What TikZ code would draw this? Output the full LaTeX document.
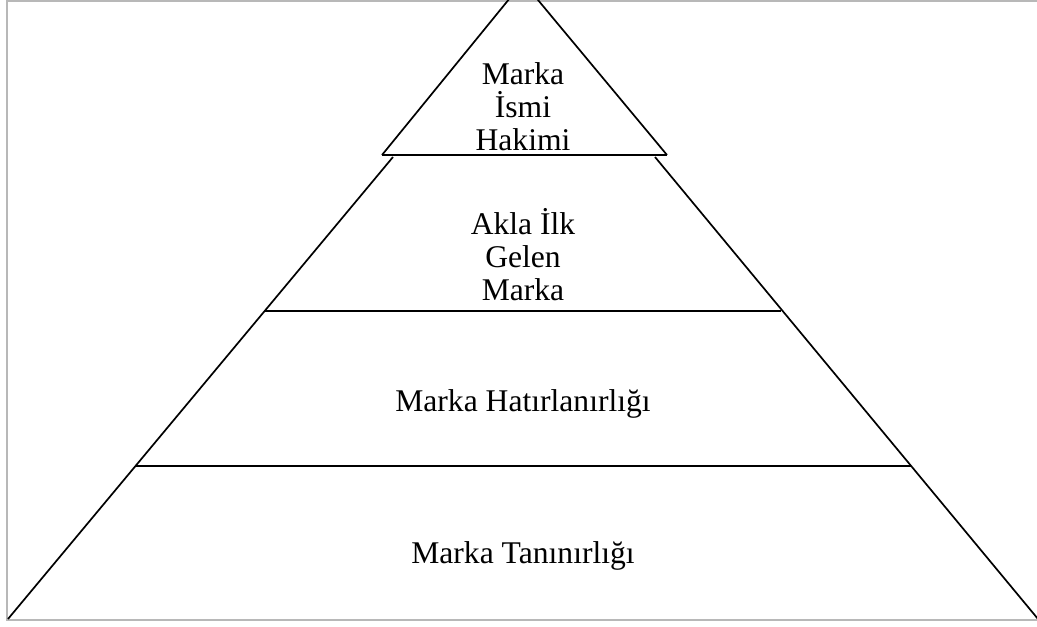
\documentclass[tikz,border=0pt]{standalone}
\usepackage{fontspec}
\setmainfont{Liberation Serif}
\begin{document}
\begin{tikzpicture}
      [
      x=0.5pt,y=-0.5pt,
      side/.style={draw,line width=0.85pt},
      layer/.style={draw,line width=1.1pt},
      frame/.style={draw=black!28,line width=1pt},
      level/.style={align=center,font=\fontsize{15.8}{16.5}\selectfont,inner sep=0pt,anchor=base}
      ]
      \path[use as bounding box,clip] (0,0) rectangle (1037,626);
      \draw[frame] (1060,1) -- (7,1) -- (7,620) -- (1060,620);

      % lower part of the pyramid
      \coordinate (bl) at (8,619);
      \coordinate (br) at (1038,619);
      \coordinate (tl) at (393,157);
      \coordinate (tr) at (655,157);
      \coordinate (l1) at (135.5,466);
      \coordinate (r1) at (910.5,466);
      \coordinate (l2) at (264.6,311);
      \coordinate (r2) at (781.4,311);
      \draw[side] (bl) -- (tl);
      \draw[side] (br) -- (tr);
      \draw[layer] (l1) -- (r1);
      \draw[layer] (l2) -- (r2);

      % top triangle
      \coordinate (apex) at (523,-18);
      \coordinate (al) at (382,155);
      \coordinate (ar) at (667,155);
      \draw[side] (al) -- (apex) -- (ar);
      \draw[layer] (al) -- (ar);

      \node (top) at (523,150) [level] {Marka\\İsmi\\Hakimi};
      \node (first) at (523,300) [level] {Akla İlk\\Gelen\\Marka};
      \node (recall) at (523,411) [level] {Marka Hatırlanırlığı};
      \node (recog) at (523,563) [level] {Marka Tanınırlığı};
    \end{tikzpicture}
\end{document}
